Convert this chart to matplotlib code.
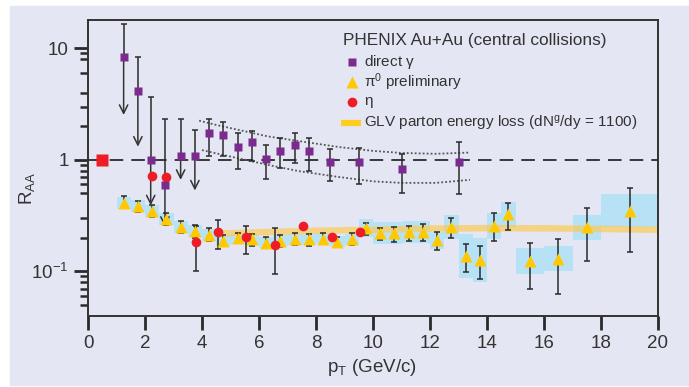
import matplotlib
matplotlib.use("Agg")
import matplotlib.pyplot as plt
from matplotlib.patches import Rectangle
from matplotlib.ticker import FixedLocator, NullFormatter

plt.rcParams['font.family'] = ['Liberation Sans Narrow', 'DejaVu Sans Condensed', 'Liberation Sans', 'DejaVu Sans']
plt.rcParams['mathtext.default'] = 'regular'

# direct photons (first six are upper limits)
gam_x = [1.25, 1.75, 2.2, 2.7, 3.25, 3.75, 4.25, 4.75, 5.25, 5.75, 6.25, 6.75, 7.25, 7.75, 8.5, 9.5, 11.0, 13.0]
gam_y = [8.3, 4.1, 0.99, 0.59, 1.09, 1.09, 1.72, 1.65, 1.29, 1.43, 1.01, 1.19, 1.35, 1.19, 0.95, 0.95, 0.82, 0.95]
gam_hi = [16.4, 8.4, 3.63, 2.3, 2.3, 1.86, 2.3, 2.19, 1.72, 1.82, 1.35, 1.56, 1.72, 1.56, 1.24, 1.28, 1.13, 1.43]
gam_lo = [2.52, 1.31, 0.39, 0.25, 0.66, 0.53, 1.08, 1.09, 0.82, 0.97, 0.67, 0.84, 0.93, 0.80, 0.65, 0.60, 0.50, 0.49]
gam_limit = [True] * 6 + [False] * 12

# band expected for direct photons
band_up_x = [3.9, 4.5, 5.5, 6.3, 7.4, 8.8, 10.0, 11.0, 12.2, 13.4]
band_up_y = [2.24, 2.05, 1.8, 1.62, 1.47, 1.3, 1.2, 1.15, 1.13, 1.16]
band_lo_x = [4.0, 4.5, 5.5, 6.3, 7.4, 8.8, 10.0, 11.0, 12.2, 13.4]
band_lo_y = [1.22, 1.14, 1.0, 0.9, 0.79, 0.70, 0.64, 0.62, 0.62, 0.66]

# pi0 preliminary
pi_x = [1.25, 1.75, 2.25, 2.75, 3.25, 3.75, 4.25, 4.75, 5.25, 5.75, 6.25, 6.75, 7.25, 7.75, 8.25, 8.75,
        9.25, 9.75, 10.25, 10.75, 11.25, 11.75, 12.25, 12.75, 13.25, 13.75, 14.25, 14.75, 15.5, 16.5, 17.5, 19.0]
pi_y = [0.41, 0.385, 0.349, 0.294, 0.25, 0.23, 0.211, 0.188, 0.197, 0.193, 0.18, 0.187, 0.194, 0.193, 0.196, 0.183,
        0.193, 0.243, 0.219, 0.219, 0.224, 0.224, 0.19, 0.248, 0.137, 0.126, 0.254, 0.324, 0.123, 0.13, 0.248, 0.349]
pi_hi = [0.473, 0.43, 0.393, 0.33, 0.284, 0.26, 0.242, 0.211, 0.222, 0.216, 0.201, 0.21, 0.219, 0.216, 0.222, 0.204,
         0.219, 0.269, 0.246, 0.25, 0.256, 0.264, 0.226, 0.298, 0.174, 0.167, 0.33, 0.41, 0.178, 0.196, 0.371, 0.56]
pi_lo = [0.367, 0.34, 0.308, 0.26, 0.219, 0.2, 0.188, 0.168, 0.178, 0.168, 0.16, 0.166, 0.172, 0.168, 0.176, 0.164,
         0.171, 0.211, 0.19, 0.183, 0.186, 0.186, 0.155, 0.197, 0.098, 0.085, 0.186, 0.234, 0.07, 0.063, 0.123, 0.148]
pi_sys = [1.13, 1.13, 1.13, 1.13, 1.13, 1.13, 1.13, 1.12, 1.12, 1.12, 1.12, 1.12, 1.12, 1.12, 1.12, 1.12,
          1.12, 1.2, 1.25, 1.25, 1.26, 1.26, 1.19, 1.28, 1.57, 1.58, 1.3, 1.3, 1.31, 1.3, 1.3, 1.4]
pi_bin = [0.25] * 28 + [0.5, 0.5, 0.5, 1.0]

# eta
eta_x = [2.25, 2.75, 3.8, 4.55, 5.55, 6.55, 7.55, 8.55, 9.55]
eta_y = [0.71, 0.695, 0.182, 0.226, 0.203, 0.171, 0.254, 0.204, 0.224]
eta_hi = [0.71, 0.695, 0.256, 0.288, 0.254, 0.243, 0.254, 0.204, 0.224]
eta_lo = [0.71, 0.695, 0.10, 0.157, 0.143, 0.094, 0.254, 0.204, 0.224]

# GLV parton energy loss
glv_x = [4.6, 6, 8, 10, 12, 14, 16, 18, 20]
glv_y = [0.22, 0.226, 0.233, 0.238, 0.244, 0.246, 0.245, 0.242, 0.238]
glv_width = 1.07

# normalisation uncertainty
norm_x = [0.5]
norm_y = [1.0]

purple = '#7b2a8e'
yellow = '#ffc800'
red = '#ee1c25'
sky = '#b7e2f6'
ink = '#2a2a2a'

fig = plt.figure(figsize=(6.89, 3.87), dpi=100)
fig.patches.append(Rectangle((10 / 689, 2 / 387), 679 / 689, 379 / 387,
                             transform=fig.transFigure, color='#e4e7f3', zorder=-10))
ax = fig.add_axes([88 / 689, 71 / 387, 570 / 689, 296 / 387])
ax.set_facecolor('none')
ax.set_yscale('log')
ax.set_xlim(0, 20)
ax.set_ylim(0.0397, 17.9)

# systematic boxes for pi0
for x, y, s, w in zip(pi_x, pi_y, pi_sys, pi_bin):
    ax.add_patch(Rectangle((x - w, y / s), 2 * w, y * s - y / s,
                           facecolor=sky, edgecolor='none', zorder=1))

ax.fill_between(glv_x, [v / glv_width for v in glv_y], [v * glv_width for v in glv_y],
                color='#ffc94a', alpha=0.65, lw=0, zorder=2)

ax.axhline(1.0, color=ink, lw=1.3, dashes=(7.5, 4.5), zorder=2)
ax.plot(band_up_x, band_up_y, color='#555555', lw=1.3, ls=(0, (1, 1.2)), zorder=2)
ax.plot(band_lo_x, band_lo_y, color='#555555', lw=1.3, ls=(0, (1, 1.2)), zorder=2)

ebkw = dict(fmt='none', ecolor=ink, elinewidth=1.1, capsize=2.2, capthick=1.1, zorder=3)

# direct photons: upper limits drawn as arrows
for x, y, hi, lo, lim in zip(gam_x, gam_y, gam_hi, gam_lo, gam_limit):
    if lim:
        ax.errorbar([x], [y], yerr=[[0], [hi - y]], **ebkw)
        ax.annotate('', xy=(x, lo), xytext=(x, y),
                    arrowprops=dict(arrowstyle='->,head_length=0.6,head_width=0.3',
                                    color='#333333', lw=1.1, shrinkA=0, shrinkB=0),
                    zorder=3)
    else:
        ax.errorbar([x], [y], yerr=[[y - lo], [hi - y]], **ebkw)

ax.errorbar(pi_x, pi_y, yerr=[[y - l for y, l in zip(pi_y, pi_lo)], [h - y for y, h in zip(pi_y, pi_hi)]], **ebkw)
ax.errorbar(eta_x, eta_y, yerr=[[y - l for y, l in zip(eta_y, eta_lo)], [h - y for y, h in zip(eta_y, eta_hi)]], **ebkw)

ax.plot(pi_x, pi_y, '^', color=yellow, ms=8, mec='none', zorder=4)
ax.plot(eta_x, eta_y, 'o', color=red, ms=7, mec='none', zorder=4)
ax.plot(gam_x, gam_y, 's', color=purple, ms=5.6, mec='none', zorder=4)
ax.plot(norm_x, norm_y, 's', color=red, ms=8, mec='none', zorder=4, clip_on=False)

# axes styling
for side in ['left', 'bottom', 'right', 'top']:
    ax.spines[side].set_color('#333333')
    ax.spines[side].set_linewidth(1.4)
ax.set_xticks(range(0, 21, 2))
ax.set_yticks([0.1, 1, 10])
ax.set_yticklabels(['$10^{-1}$', '1', '10'])
ax.yaxis.set_minor_locator(FixedLocator([0.05, 0.06, 0.07, 0.08, 0.09, 0.2, 0.3, 0.5, 0.6, 0.7, 0.8, 0.9,
                                         2, 3, 4, 6, 8, 9]))
ax.yaxis.set_minor_formatter(NullFormatter())
ax.tick_params(which='major', direction='out', length=10, width=2, color=ink,
               labelsize=13.5, labelcolor='#333333', pad=4)
ax.tick_params(which='minor', direction='out', length=6, width=1.8, color=ink)
ax.tick_params(axis='y', which='both', right=False)
ax.tick_params(axis='x', which='both', top=False)

fig.text(372 / 689, 1 - 368 / 387, 'p$_T$ (GeV/c)', ha='center', va='center', fontsize=13.5, color='#333333')
fig.text(27 / 689, 1 - 188 / 387, 'R$_{AA}$', ha='center', va='center', rotation=90, fontsize=13.5, color='#333333')

# legend
def fx(px):
    return (px - 88) / 570

def fy(py):
    return (316 - py) / 296

ax.text(fx(343), fy(40), 'PHENIX Au+Au (central collisions)', transform=ax.transAxes,
        fontsize=12.4, color='#333333', va='center', ha='left')
rows = [(62, 's', purple, 5.6, 'direct $\\gamma$'),
        (82, '^', yellow, 8, '$\\pi^0$ preliminary'),
        (102, 'o', red, 7, '$\\eta$')]
for py, mk, col, ms, label in rows:
    ax.plot([fx(352)], [fy(py)], mk, color=col, ms=ms, mec='none', transform=ax.transAxes, clip_on=False)
    ax.text(fx(364), fy(py), label, transform=ax.transAxes, fontsize=11, color='#333333',
            va='center', ha='left')
ax.plot([fx(341), fx(361)], [fy(123), fy(123)], color='#ffcc22', lw=4.5, solid_capstyle='butt',
        transform=ax.transAxes, clip_on=False)
ax.text(fx(364), fy(123), 'GLV parton energy loss (dN$^g$/dy = 1100)', transform=ax.transAxes,
        fontsize=11, color='#333333', va='center', ha='left')

fig.savefig('out.png', dpi=100, facecolor='white')
